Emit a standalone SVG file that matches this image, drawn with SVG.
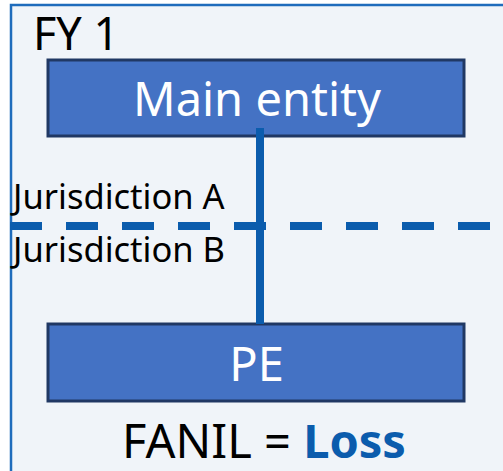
<svg xmlns="http://www.w3.org/2000/svg" width="503" height="471" viewBox="0 0 503 471">
<style>
.t{font-family:"Noto Sans","Open Sans",sans-serif;}
.box{fill:#4472C4;stroke:#203864;stroke-width:3;}
.w{fill:#FFFFFF;}
.k{fill:#000000;}
</style>
<rect x="0" y="0" width="503" height="471" fill="#FFFFFF"/>
<g id="frame">
<rect x="11" y="5" width="500" height="480" fill="#F0F4F9" stroke="#1F6CBC" stroke-width="2.5"/>
<text class="t k" x="33" y="50" font-size="45">FY 1</text>
</g>
<g id="jurisdictions">
<text class="t k" x="13" y="209" font-size="34.5">Jurisdiction A</text>
<text class="t k" x="13" y="262" font-size="34.5">Jurisdiction B</text>
</g>
<g id="main-entity">
<rect class="box" x="48" y="60" width="416" height="76"/>
<text class="t w" x="257" y="116" font-size="47" text-anchor="middle">Main entity</text>
</g>
<g id="pe">
<rect class="box" x="48" y="324" width="416" height="77"/>
<text class="t w" x="256.5" y="381" font-size="47" text-anchor="middle">PE</text>
</g>
<g id="connectors">
<line x1="10" y1="226" x2="490" y2="226" stroke="#0B5CAD" stroke-width="8" stroke-dasharray="32 24"/>
<line x1="260" y1="128" x2="260" y2="324" stroke="#0B5CAD" stroke-width="8"/>
</g>
<g id="fanil">
<text class="t k" x="264" y="458" font-size="47" text-anchor="middle">FANIL = <tspan font-weight="bold" fill="#0B5CAD">Loss</tspan></text>
</g>
</svg>
